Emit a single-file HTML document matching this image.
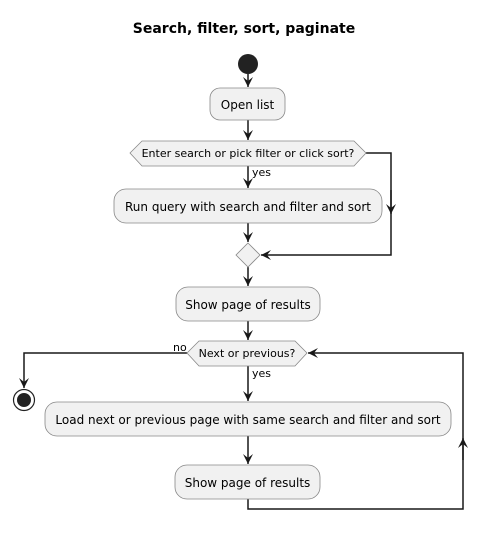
<!DOCTYPE html>
<html><head><style>body{margin:0;background:#fff}</style></head><body>
<svg width="488" height="532" xmlns="http://www.w3.org/2000/svg" font-family="'DejaVu Sans','Liberation Sans',sans-serif">
<defs><marker id="a" markerWidth="12" markerHeight="12" refX="10" refY="5" orient="auto" markerUnits="userSpaceOnUse"><path d="M0,0 L10,5 L0,10 L4,5 Z" fill="#181818"/></marker></defs>
<rect width="488" height="532" fill="#fff"/>
<text x="244" y="33" text-anchor="middle" font-size="14" font-weight="bold" fill="#000">Search, filter, sort, paginate</text>
<circle cx="248" cy="64" r="10" fill="#222"/>
<g stroke="#181818" stroke-width="1.5" fill="none">
<line x1="248" y1="74" x2="248" y2="87" marker-end="url(#a)"/>
<line x1="248" y1="120" x2="248" y2="140" marker-end="url(#a)"/>
<line x1="248" y1="166" x2="248" y2="188" marker-end="url(#a)"/>
<line x1="248" y1="223" x2="248" y2="242" marker-end="url(#a)"/>
<polyline points="366,153 391,153 391,255 261,255" marker-end="url(#a)"/>
<line x1="391" y1="190" x2="391" y2="214" marker-end="url(#a)"/>
<line x1="248" y1="267" x2="248" y2="286" marker-end="url(#a)"/>
<line x1="248" y1="321" x2="248" y2="340" marker-end="url(#a)"/>
<polyline points="187,353 24,353 24,388" marker-end="url(#a)"/>
<line x1="248" y1="366" x2="248" y2="401" marker-end="url(#a)"/>
<line x1="248" y1="436" x2="248" y2="464" marker-end="url(#a)"/>
<polyline points="248,499 248,509 463,509 463,353 308,353" marker-end="url(#a)"/>
<line x1="463" y1="460" x2="463" y2="438" marker-end="url(#a)"/>
</g>
<g fill="#f1f1f1" stroke="#888" stroke-width="0.8">
<rect x="210" y="88" width="75" height="32" rx="10"/>
<polygon points="130,153 142,141 354,141 366,153 354,166 142,166"/>
<rect x="114" y="189" width="268" height="34" rx="12"/>
<polygon points="248,243 260,255 248,267 236,255"/>
<rect x="176" y="287" width="144" height="34" rx="12"/>
<polygon points="187,353 199,341 295,341 307,353 295,366 199,366"/>
<rect x="45" y="402" width="406" height="34" rx="12"/>
<rect x="175" y="465" width="145" height="34" rx="12"/>
</g>
<circle cx="24" cy="400" r="10.5" fill="#fff" stroke="#222" stroke-width="1.2"/>
<circle cx="24" cy="400" r="7" fill="#222"/>
<g font-size="12" fill="#000" text-anchor="middle">
<text x="247.5" y="109">Open list</text>
<text x="248" y="211">Run query with search and filter and sort</text>
<text x="248" y="309">Show page of results</text>
<text x="248" y="424">Load next or previous page with same search and filter and sort</text>
<text x="247.5" y="487">Show page of results</text>
</g>
<g font-size="11" fill="#000">
<text x="248" y="157" text-anchor="middle">Enter search or pick filter or click sort?</text>
<text x="247" y="357" text-anchor="middle">Next or previous?</text>
<text x="252" y="176">yes</text>
<text x="252" y="377">yes</text>
<text x="173" y="351">no</text>
</g>
</svg>
</body></html>
